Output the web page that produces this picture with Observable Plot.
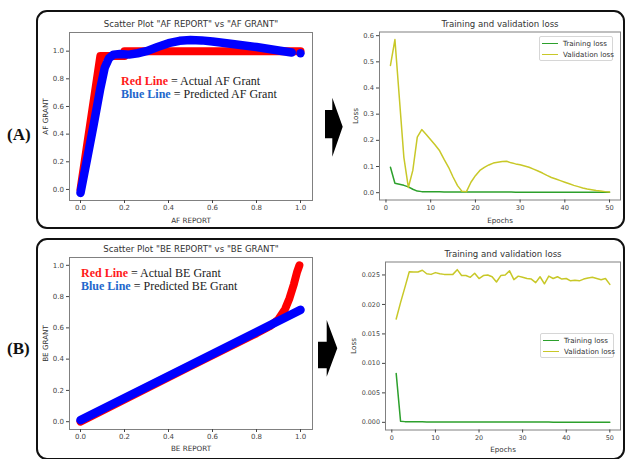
<!DOCTYPE html>
<html>
<head>
<meta charset="utf-8">
<script src="https://cdn.jsdelivr.net/npm/d3@7"></script>
<script src="https://cdn.jsdelivr.net/npm/@observablehq/plot@0.6"></script>
<style>
  html, body { margin: 0; padding: 0; background: #fff; }
  #root { position: relative; width: 625px; height: 459px; background: #fff; overflow: hidden; font-family: "DejaVu Sans", sans-serif; }
  .box { position: absolute; border: 2.6px solid #111; border-radius: 11px; box-sizing: border-box; }
  .plab { position: absolute; font-family: "Liberation Serif", serif; font-weight: bold; font-size: 17px; color: #111; line-height: 1; }
  .pl { position: absolute; }
  .ann { position: absolute; font-family: "Liberation Serif", serif; font-size: 12px; line-height: 13px; color: #222; white-space: nowrap; }
  .ann b.r { color: #ff1a1a; }
  .ann b.b { color: #2266cc; }
  .leg { position: absolute; background: #fff; border: 1px solid #d6d6d6; border-radius: 2px; box-sizing: border-box; font-family: "DejaVu Sans", sans-serif; font-size: 7.1px; color: #333; }
  .leg .row { position: absolute; left: 0; height: 10px; display: flex; align-items: center; white-space: nowrap; }
  .leg .row i { display: inline-block; width: 16px; height: 0; border-top: 1.5px solid; margin: 0 5px 0 2px; }
</style>
</head>
<body>
<div id="root"></div>
<script>
// ---------------- data ----------------
const reportTicks = [0, 0.2, 0.4, 0.6, 0.8, 1.0];
const grantTicks = [0, 0.2, 0.4, 0.6, 0.8, 1.0];
const epochTicks = [0, 10, 20, 30, 40, 50];
const afLossTicks = [0, 0.1, 0.2, 0.3, 0.4, 0.5, 0.6];
const beLossTicks = [0, 0.005, 0.01, 0.015, 0.02, 0.025];

const afActualX = [0, 0.09, 0.2, 0.2, 1.0];
const afActualY = [0, 0.965, 0.965, 1.0, 1.0];
const afPredX = [0, 0.03, 0.06, 0.09, 0.11, 0.13, 0.15, 0.18, 0.22, 0.26, 0.30, 0.35, 0.40, 0.45, 0.50, 0.55, 0.60, 0.70, 0.80, 0.90, 0.96, 1.0];
const afPredY = [-0.025, 0.22, 0.47, 0.73, 0.88, 0.95, 0.975, 0.98, 0.975, 0.985, 1.0, 1.03, 1.058, 1.075, 1.08, 1.078, 1.07, 1.05, 1.03, 1.005, 0.99, 0.985];

const beActualX = [0, 0.5, 0.8, 0.86, 0.9, 0.93, 0.95, 0.97, 0.985, 0.995];
const beActualY = [0, 0.355, 0.565, 0.61, 0.655, 0.72, 0.79, 0.88, 0.96, 1.0];
const bePredX = [0, 0.5, 1.0];
const bePredY = [0.01, 0.362, 0.715];

const epochs = [1,2,3,4,5,6,7,8,9,10,11,12,13,14,15,16,17,18,19,20,21,22,23,24,25,26,27,28,29,30,31,32,33,34,35,36,37,38,39,40,41,42,43,44,45,46,47,48,49,50];

const afTrainLoss = [0.097,0.036,0.032,0.028,0.022,0.013,0.006,0.004,0.0038,0.0035,0.0033,0.0032,0.003,0.003,0.0029,0.0028,0.0027,0.0026,0.0026,0.0025,0.0024,0.0024,0.0023,0.0023,0.0022,0.0022,0.0021,0.0021,0.002,0.002,0.002,0.0019,0.0019,0.0019,0.0018,0.0018,0.0018,0.0017,0.0017,0.0017,0.0016,0.0016,0.0016,0.0015,0.0015,0.0015,0.0015,0.0014,0.0014,0.0014];
const afValLoss = [0.486,0.585,0.36,0.135,0.02,0.085,0.212,0.241,0.222,0.202,0.182,0.16,0.127,0.097,0.06,0.027,0.005,0.004,0.04,0.065,0.085,0.097,0.106,0.113,0.116,0.119,0.12,0.114,0.11,0.107,0.102,0.097,0.09,0.083,0.075,0.066,0.058,0.052,0.046,0.04,0.034,0.028,0.023,0.018,0.014,0.011,0.008,0.006,0.004,0.003];

const beTrainLoss = [0.0083,0.0002,0.00012,0.0001,0.00009,0.00008,0.00008,0.00007,0.00007,0.00007,0.00006,0.00006,0.00006,0.00006,0.00006,0.00005,0.00005,0.00005,0.00005,0.00005,0.00005,0.00005,0.00005,0.00005,0.00004,0.00004,0.00004,0.00004,0.00004,0.00004,0.00004,0.00004,0.00004,0.00004,0.00004,0.00004,0.00003,0.00003,0.00003,0.00003,0.00003,0.00003,0.00003,0.00003,0.00003,0.00003,0.00003,0.00003,0.00003,0.00003];
const beValLoss = [0.01753,0.0203,0.0229,0.02554,0.0255,0.0255,0.0258,0.0252,0.0251,0.0254,0.0252,0.0251,0.0251,0.0251,0.0259,0.0249,0.0249,0.0246,0.0253,0.0244,0.0249,0.025,0.0247,0.0238,0.0249,0.025,0.0257,0.0242,0.0248,0.0246,0.0244,0.0243,0.0237,0.0247,0.0235,0.0248,0.0244,0.0247,0.0243,0.0244,0.024,0.0241,0.024,0.0243,0.0245,0.0246,0.0244,0.0242,0.0244,0.0234];

const RED = "#ff0000", BLUE = "#0000ff", GREEN = "#2ca02c", OLIVE = "#c8c828";

// ---------------- helpers ----------------
const zip = (xs, ys) => xs.map((x, i) => ({x, y: ys[i]}));
const root = document.getElementById("root");

function add(el, css) { Object.assign(el.style, css); root.appendChild(el); return el; }
function div(cls, css, html) { const d = document.createElement("div"); d.className = cls; if (html) d.innerHTML = html; return add(d, css); }

function chart(o) {
  const fs = o.tickFont;
  const p = Plot.plot({
    width: o.width, height: o.height,
    marginLeft: o.ml, marginRight: o.mr, marginTop: o.mt, marginBottom: o.mb,
    x: {domain: o.xDomain, label: null},
    y: {domain: o.yDomain, label: null},
    style: {fontFamily: "DejaVu Sans", fontSize: fs + "px", color: "#444", background: "transparent", overflow: "visible"},
    marks: [
      Plot.frame({stroke: "#808080", strokeWidth: 1}),
      ...o.marks,
      Plot.axisX(o.xTicks, {tickFormat: o.xFmt, tickSize: 3, tickPadding: 2, fontSize: fs, label: null}),
      Plot.axisY(o.yTicks, {tickFormat: o.yFmt, tickSize: 3, tickPadding: 2.5, fontSize: fs, label: null}),
      Plot.text([o.title], {text: d => d, frameAnchor: "top", dy: -o.titleDy, lineAnchor: "middle", fontSize: 8.6, fill: "#333"}),
      Plot.text([o.xLabel], {text: d => d, frameAnchor: "bottom", dy: o.xLabelDy, lineAnchor: "middle", fontSize: 7.2, fill: "#333"}),
      Plot.text([o.yLabel], {text: d => d, frameAnchor: "left", dx: -o.yLabelDx, rotate: -90, textAnchor: "middle", lineAnchor: "middle", fontSize: 7.2, fill: "#333"})
    ]
  });
  const holder = div("pl", {left: o.left + "px", top: o.top + "px", width: o.width + "px", height: o.height + "px"});
  holder.appendChild(p);
}

// ---------------- boxes & labels ----------------
div("box", {left: "35.5px", top: "9.5px", width: "589px", height: "219.5px"});
div("box", {left: "35.5px", top: "237.8px", width: "589px", height: "222px"});
div("plab", {left: "7px", top: "126px"}, "(A)");
div("plab", {left: "7px", top: "340px"}, "(B)");

// ---------------- panel A ----------------
chart({
  left: 30, top: 14, width: 290, height: 215, ml: 39, mr: 8, mt: 18, mb: 29,
  xDomain: [-0.05, 1.0545], yDomain: [-0.08, 1.135],
  xTicks: reportTicks, yTicks: grantTicks, xFmt: ".1f", yFmt: ".1f", tickFont: 7,
  title: 'Scatter Plot "AF REPORT" vs "AF GRANT"', titleDy: 8,
  xLabel: "AF REPORT", xLabelDy: 20, yLabel: "AF GRANT", yLabelDx: 24,
  marks: [
    Plot.line(zip(afActualX, afActualY), {x: "x", y: "y", stroke: RED, strokeWidth: 8, strokeLinecap: "round"}),
    Plot.line(zip(afPredX, afPredY), {x: "x", y: "y", stroke: BLUE, strokeWidth: 8.5, strokeLinecap: "round", filter: (d, i) => i < afPredX.length - 1}),
    Plot.dot(zip(afPredX, afPredY), {x: "x", y: "y", r: 4.2, fill: BLUE, filter: (d, i) => i === afPredX.length - 1})
  ]
});

chart({
  left: 330, top: 14, width: 295, height: 215, ml: 49, mr: 5, mt: 17.5, mb: 29.5,
  xDomain: [-1.45, 52.45], yDomain: [-0.028, 0.614],
  xTicks: epochTicks, yTicks: afLossTicks, xFmt: "d", yFmt: ".1f", tickFont: 6.7,
  title: "Training and validation loss", titleDy: 7.5,
  xLabel: "Epochs", xLabelDy: 21, yLabel: "Loss", yLabelDx: 24,
  marks: [
    Plot.line(zip(epochs, afTrainLoss), {x: "x", y: "y", stroke: GREEN, strokeWidth: 1.5}),
    Plot.line(zip(epochs, afValLoss), {x: "x", y: "y", stroke: OLIVE, strokeWidth: 1.5})
  ]
});

// ---------------- panel B ----------------
chart({
  left: 30, top: 238, width: 290, height: 221, ml: 39, mr: 8, mt: 19, mb: 30,
  xDomain: [-0.05, 1.0545], yDomain: [-0.05, 1.05],
  xTicks: reportTicks, yTicks: grantTicks, xFmt: ".1f", yFmt: ".1f", tickFont: 7,
  title: 'Scatter Plot "BE REPORT" vs "BE GRANT"', titleDy: 8,
  xLabel: "BE REPORT", xLabelDy: 19.5, yLabel: "BE GRANT", yLabelDx: 24,
  marks: [
    Plot.line(zip(beActualX, beActualY), {x: "x", y: "y", stroke: RED, strokeWidth: 8, strokeLinecap: "round"}),
    Plot.line(zip(bePredX, bePredY), {x: "x", y: "y", stroke: BLUE, strokeWidth: 8.5, strokeLinecap: "round"})
  ]
});

chart({
  left: 330, top: 238, width: 295, height: 221, ml: 55, mr: 5, mt: 23.5, mb: 29.5,
  xDomain: [-1.45, 52.45], yDomain: [-0.0013, 0.0272],
  xTicks: epochTicks, yTicks: beLossTicks, xFmt: "d", yFmt: ".3f", tickFont: 6.4,
  title: "Training and validation loss", titleDy: 7.5,
  xLabel: "Epochs", xLabelDy: 19.5, yLabel: "Loss", yLabelDx: 32,
  marks: [
    Plot.line(zip(epochs, beTrainLoss), {x: "x", y: "y", stroke: GREEN, strokeWidth: 1.5}),
    Plot.line(zip(epochs, beValLoss), {x: "x", y: "y", stroke: OLIVE, strokeWidth: 1.5})
  ]
});

// ---------------- annotations ----------------
div("ann", {left: "121px", top: "75px"}, '<b class="r">Red Line</b> = Actual AF Grant<br><b class="b">Blue Line</b> = Predicted AF Grant');
div("ann", {left: "81px", top: "267px"}, '<b class="r">Red Line</b> = Actual BE Grant<br><b class="b">Blue Line</b> = Predicted BE Grant');

// ---------------- legends ----------------
function legend(left, top) {
  const l = div("leg", {left: left + "px", top: top + "px", width: "74px", height: "25px"});
  l.innerHTML =
    '<div class="row" style="top:1px"><i style="border-color:' + GREEN + '"></i>Training loss</div>' +
    '<div class="row" style="top:12.5px"><i style="border-color:' + OLIVE + '"></i>Validation loss</div>';
}
legend(539, 36);
legend(540, 333);

// ---------------- arrows ----------------
const ns = "http://www.w3.org/2000/svg";
const svg = document.createElementNS(ns, "svg");
svg.setAttribute("width", 625); svg.setAttribute("height", 459);
Object.assign(svg.style, {position: "absolute", left: 0, top: 0, pointerEvents: "none"});
[
  "325,110 332.3,110 332.3,97.7 342.7,126.7 332.3,156.7 332.3,138.3 325,138.3",
  "318,341.7 326.7,341.7 326.7,320 337.3,348.3 326.7,376.7 326.7,368.3 318,368.3"
].forEach(pts => {
  const p = document.createElementNS(ns, "polygon");
  p.setAttribute("points", pts); p.setAttribute("fill", "#000");
  svg.appendChild(p);
});
root.appendChild(svg);
</script>
</body>
</html>
